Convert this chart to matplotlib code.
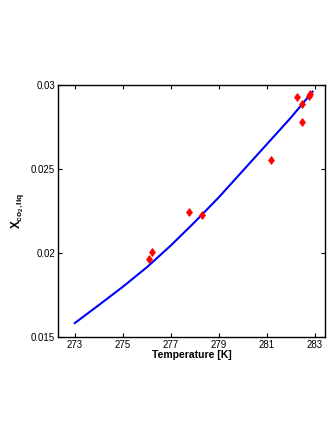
import matplotlib
matplotlib.use("Agg")
import matplotlib.pyplot as plt

plt.rcParams['font.family'] = ['Liberation Sans', 'DejaVu Sans']
plt.rcParams['mathtext.fontset'] = 'custom'
plt.rcParams['mathtext.rm'] = 'Liberation Sans'
plt.rcParams['mathtext.bf'] = 'Liberation Sans:bold'

# model curve
model_T = [273, 274, 275, 276, 277, 278, 279, 280, 281, 282, 282.9]
model_x = [0.01583, 0.01690, 0.01799, 0.01915, 0.02045, 0.02185,
           0.02332, 0.02490, 0.02648, 0.02806, 0.02960]

# measurements
exp_T = [276.1, 276.2, 277.75, 278.3, 281.15, 282.24, 282.45, 282.45, 282.74, 282.8]
exp_x = [0.01964, 0.02006, 0.02245, 0.02226, 0.02554, 0.02927, 0.02885, 0.02778, 0.02936, 0.02948]

fig = plt.figure(figsize=(3.32, 4.30), dpi=100)
ax = fig.add_axes([0.1747, 0.2163, 0.8043, 0.586])

ax.plot(model_T, model_x, color='#0000ff', lw=1.5)
ax.plot(exp_T, exp_x, 'd', color='red', markersize=4.5, markeredgewidth=0.5)

ax.set_xlim(272.3, 283.42)
ax.set_ylim(0.015, 0.03)
ax.set_xticks([273, 275, 277, 279, 281, 283])
ax.set_yticks([0.015, 0.02, 0.025, 0.03])
ax.set_yticklabels(['0.015', '0.02', '0.025', '0.03'])
ax.tick_params(direction='in', top=True, right=True, labelsize=7, length=3, width=0.8, pad=2)
for s in ax.spines.values():
    s.set_linewidth(1.0)

ax.set_xlabel('Temperature [K]', fontsize=7.5, fontweight='bold', labelpad=0)
ax.set_ylabel(r'$\mathbf{X_{co_2,liq}}$', fontsize=8.5, labelpad=4)

fig.savefig('out.png', dpi=100)
